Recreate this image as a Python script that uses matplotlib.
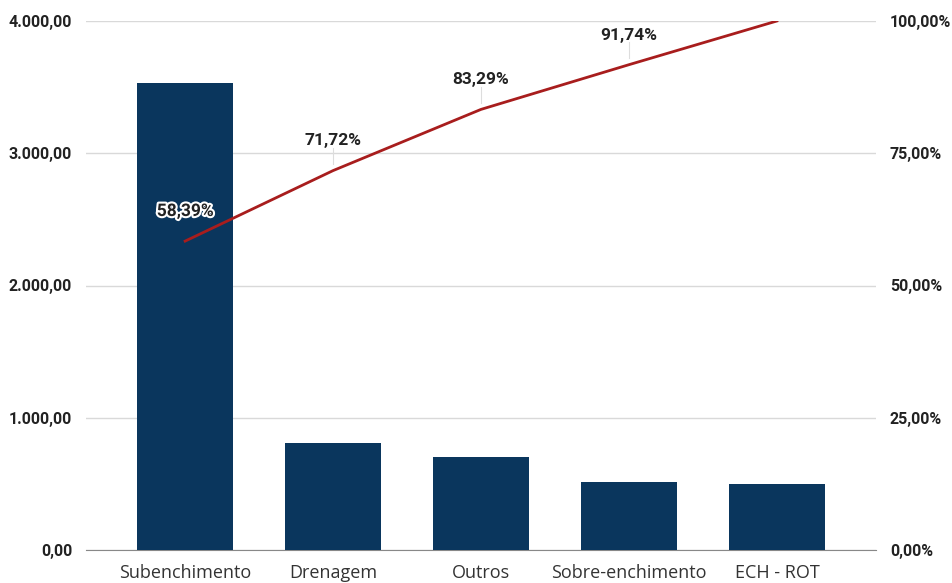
import matplotlib.pyplot as plt
import matplotlib.patheffects as pe
from matplotlib.ticker import FuncFormatter

categorias = ["Subenchimento", "Drenagem", "Outros", "Sobre-enchimento", "ECH - ROT"]
valores = [3531, 806, 700, 511, 500]
acumulado = [58.39, 71.72, 83.29, 91.74, 100.0]
rotulos = ["58,39%", "71,72%", "83,29%", "91,74%", None]

def br(v, casas=2):
    s = f"{v:,.{casas}f}"
    return s.replace(",", "X").replace(".", ",").replace("X", ".")

plt.rcParams['font.family'] = ['Roboto', 'DejaVu Sans']

fig = plt.figure(figsize=(9.52, 5.83), dpi=100)
ax = fig.add_axes([86/952, 33/583, 790/952, 529/583])
x = list(range(len(categorias)))

ax.bar(x, valores, width=0.65, color="#0a365d", zorder=3)
ax.set_ylim(0, 4000)
ax.set_xlim(-0.67, 4.67)
ax.set_yticks([0, 1000, 2000, 3000, 4000])
ax.yaxis.set_major_formatter(FuncFormatter(lambda v, p: br(v)))
ax.grid(axis="y", color="#d9d9d9", linewidth=1, zorder=0)
ax.set_xticks(x)
ax.set_xticklabels(categorias, fontsize=13, color="#333333", family=['Open Sans', 'DejaVu Sans'])
ax.tick_params(axis="both", length=0)
ax.tick_params(axis="x", pad=10)
ax.tick_params(axis="y", labelsize=11.5, pad=10)
for lbl in ax.get_yticklabels():
    lbl.set_fontweight("bold")
    lbl.set_color("#222222")
for s in ["top", "left", "right"]:
    ax.spines[s].set_visible(False)
ax.spines["bottom"].set_color("#888888")

ax2 = ax.twinx()
ax2.set_ylim(0, 100)
ax2.set_yticks([0, 25, 50, 75, 100])
ax2.yaxis.set_major_formatter(FuncFormatter(lambda v, p: br(v) + "%"))
ax2.tick_params(axis="y", length=0, labelsize=11.5, pad=10)
for lbl in ax2.get_yticklabels():
    lbl.set_fontweight("bold")
    lbl.set_color("#222222")
for s in ["top", "left", "right", "bottom"]:
    ax2.spines[s].set_visible(False)

ax2.plot(x, acumulado, color="#a81d1d", linewidth=2, zorder=4)

# rótulos com linha guia
for xi, yi, txt in zip(x, acumulado, rotulos):
    if txt is None:
        continue
    if xi > 0:
        ax2.plot([xi, xi], [yi + 1.2, yi + 4.3], color="#dddddd", linewidth=0.8, zorder=2)
    t = ax2.text(xi, yi + 5.6, txt, ha="center", va="center", fontsize=12.5,
                 fontweight="bold", color="#222222", zorder=5)
    if xi == 0:
        t.set_path_effects([pe.withStroke(linewidth=3, foreground="white")])

fig.savefig("out.png", dpi=100)
